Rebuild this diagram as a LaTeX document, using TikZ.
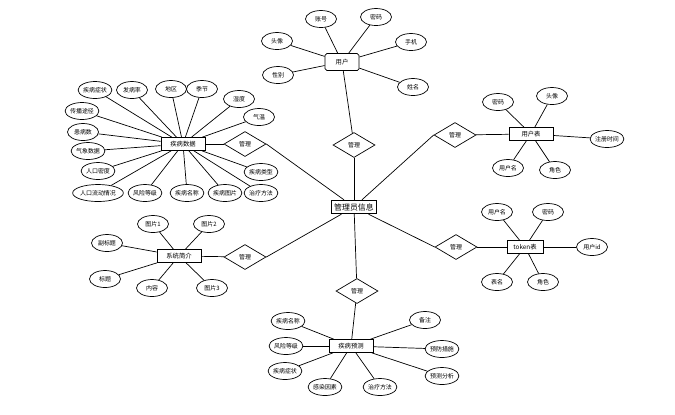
\documentclass[tikz,border=0pt]{standalone}
\usepackage{fontspec}
\setmainfont{Noto Sans CJK SC}
\usepackage{tikz}
\usetikzlibrary{shapes.geometric}

\begin{document}
\begin{tikzpicture}[
    x=0.02cm, y=-0.02cm,
    attr/.style={draw, ellipse, inner sep=0pt, minimum width=0.62cm, minimum height=0.34cm, font=\fontsize{3.4}{4}\selectfont},
    entity/.style={draw, rectangle, inner sep=0pt, minimum width=0.88cm, minimum height=0.26cm, font=\fontsize{3.6}{4}\selectfont},
    rel/.style={draw, diamond, inner sep=0pt, minimum width=0.84cm, minimum height=0.5cm, font=\fontsize{3.4}{4}\selectfont},
    admin/.style={draw, rectangle, line width=0.8pt, inner sep=0pt, minimum width=0.9cm, minimum height=0.26cm, font=\fontsize{4.5}{5}\selectfont},
    link/.style={draw, line width=0.4pt}
]
\useasboundingbox (0,0) rectangle (675,414);

% Central entity
\node[admin] (admin) at (354,207) {管理员信息};

% User
\node[entity, rounded corners=1pt, minimum width=0.68cm, minimum height=0.34cm] (user) at (342,62) {用户};
\node[attr] (uAcc) at (321,19) {账号};
\node[attr] (uPwd) at (376,17) {密码};
\node[attr] (uAva) at (277,41) {头像};
\node[attr] (uTel) at (411,42) {手机};
\node[attr] (uSex) at (278,75) {性别};
\node[attr] (uName) at (413,87) {姓名};
\node[rel] (dUser) at (354,145) {管理};

% Disease data
\node[entity] (dis) at (183,144) {疾病数据};
\node[attr] (dSym) at (95,90) {疾病症状};
\node[attr] (dRate) at (132,90) {发病率};
\node[attr] (dArea) at (171,89) {地区};
\node[attr] (dSeason) at (202,89) {季节};
\node[attr] (dHum) at (239,99) {湿度};
\node[attr] (dTemp) at (259,117) {气温};
\node[attr] (dWay) at (82,111) {传播途径};
\node[attr] (dNum) at (83,132) {患病数};
\node[attr] (dWea) at (88,151) {气象数据};
\node[attr] (dDens) at (98,171) {人口密度};
\node[attr] (dFlow) at (98,193) {人口流动情况};
\node[attr] (dRisk) at (145,193) {风险等级};
\node[attr] (dName) at (187,193) {疾病名称};
\node[attr] (dPic) at (225,193) {疾病图片};
\node[attr] (dType) at (261,172) {疾病类型};
\node[attr] (dCure) at (261,193) {治疗方法};
\node[rel] (dDis) at (245,144) {管理};

% System intro
\node[entity] (sys) at (179,256) {系统简介};
\node[attr] (sPic1) at (153,224) {图片1};
\node[attr] (sPic2) at (209,224) {图片2};
\node[attr] (sSub) at (107,243) {副标题};
\node[attr] (sTitle) at (105,279) {标题};
\node[attr] (sText) at (152,288) {内容};
\node[attr] (sPic3) at (212,288) {图片3};
\node[rel] (dSys) at (245,257) {管理};

% User table
\node[entity] (ut) at (531,134) {用户表};
\node[attr] (tPwd) at (498,102) {密码};
\node[attr] (tAva) at (552,96) {头像};
\node[attr] (tTime) at (607,139) {注册时间};
\node[attr] (tUser) at (508,168) {用户名};
\node[attr] (tRole) at (555,170) {角色};
\node[rel] (dUt) at (455,135) {管理};

% Token table
\node[entity, minimum width=0.72cm] (tok) at (525,247) {token表};
\node[attr] (kUser) at (497,212) {用户名};
\node[attr] (kPwd) at (548,212) {密码};
\node[attr] (kId) at (592,247) {用户id};
\node[attr] (kTab) at (497,282) {表名};
\node[attr] (kRole) at (543,282) {角色};
\node[rel] (dTok) at (456,247) {管理};

% Disease prediction
\node[entity] (pre) at (351,346) {疾病预测};
\node[attr] (pName) at (288,321) {疾病名称};
\node[attr] (pRisk) at (286,346) {风险等级};
\node[attr] (pSym) at (285,371) {疾病症状};
\node[attr] (pFac) at (325,387) {感染因素};
\node[attr] (pCure) at (380,387) {治疗方法};
\node[attr] (pNote) at (425,320) {备注};
\node[attr] (pPrev) at (442,349) {预防措施};
\node[attr] (pAna) at (442,376) {预测分析};
\node[rel] (dPre) at (357,291) {管理};

% Connections: user
\draw[link] (uAcc) -- (user);
\draw[link] (uPwd) -- (user);
\draw[link] (uAva) -- (user);
\draw[link] (uTel) -- (user);
\draw[link] (uSex) -- (user);
\draw[link] (uName) -- (user);
\draw[link] (user) -- (dUser);
\draw[link] (dUser) -- (admin);

% Connections: disease data
\draw[link] (dSym) -- (dis);
\draw[link] (dRate) -- (dis);
\draw[link] (dArea) -- (dis);
\draw[link] (dSeason) -- (dis);
\draw[link] (dHum) -- (dis);
\draw[link] (dTemp) -- (dis);
\draw[link] (dWay) -- (dis);
\draw[link] (dNum) -- (dis);
\draw[link] (dWea) -- (dis);
\draw[link] (dDens) -- (dis);
\draw[link] (dFlow) -- (dis);
\draw[link] (dRisk) -- (dis);
\draw[link] (dName) -- (dis);
\draw[link] (dPic) -- (dis);
\draw[link] (dType) -- (dis);
\draw[link] (dCure) -- (dis);
\draw[link] (dis) -- (dDis);
\draw[link] (dDis.east) -- (admin);

% Connections: system intro
\draw[link] (sPic1) -- (sys);
\draw[link] (sPic2) -- (sys);
\draw[link] (sSub) -- (sys);
\draw[link] (sTitle) -- (sys);
\draw[link] (sText) -- (sys);
\draw[link] (sPic3) -- (sys);
\draw[link] (sys) -- (dSys);
\draw[link] (dSys.east) -- (admin);

% Connections: user table
\draw[link] (tPwd) -- (ut);
\draw[link] (tAva) -- (ut);
\draw[link] (tTime) -- (ut);
\draw[link] (tUser) -- (ut);
\draw[link] (tRole) -- (ut);
\draw[link] (dUt) -- (ut);
\draw[link] (dUt.west) -- (admin);

% Connections: token table
\draw[link] (kUser) -- (tok);
\draw[link] (kPwd) -- (tok);
\draw[link] (kId) -- (tok);
\draw[link] (kTab) -- (tok);
\draw[link] (kRole) -- (tok);
\draw[link] (dTok) -- (tok);
\draw[link] (dTok.west) -- (admin);

% Connections: disease prediction
\draw[link] (pName) -- (pre);
\draw[link] (pRisk) -- (pre);
\draw[link] (pSym) -- (pre);
\draw[link] (pFac) -- (pre);
\draw[link] (pCure) -- (pre);
\draw[link] (pNote) -- (pre);
\draw[link] (pPrev) -- (pre);
\draw[link] (pAna) -- (pre);
\draw[link] (admin) -- (dPre);
\draw[link] (dPre) -- (pre);

\end{tikzpicture}
\end{document}
